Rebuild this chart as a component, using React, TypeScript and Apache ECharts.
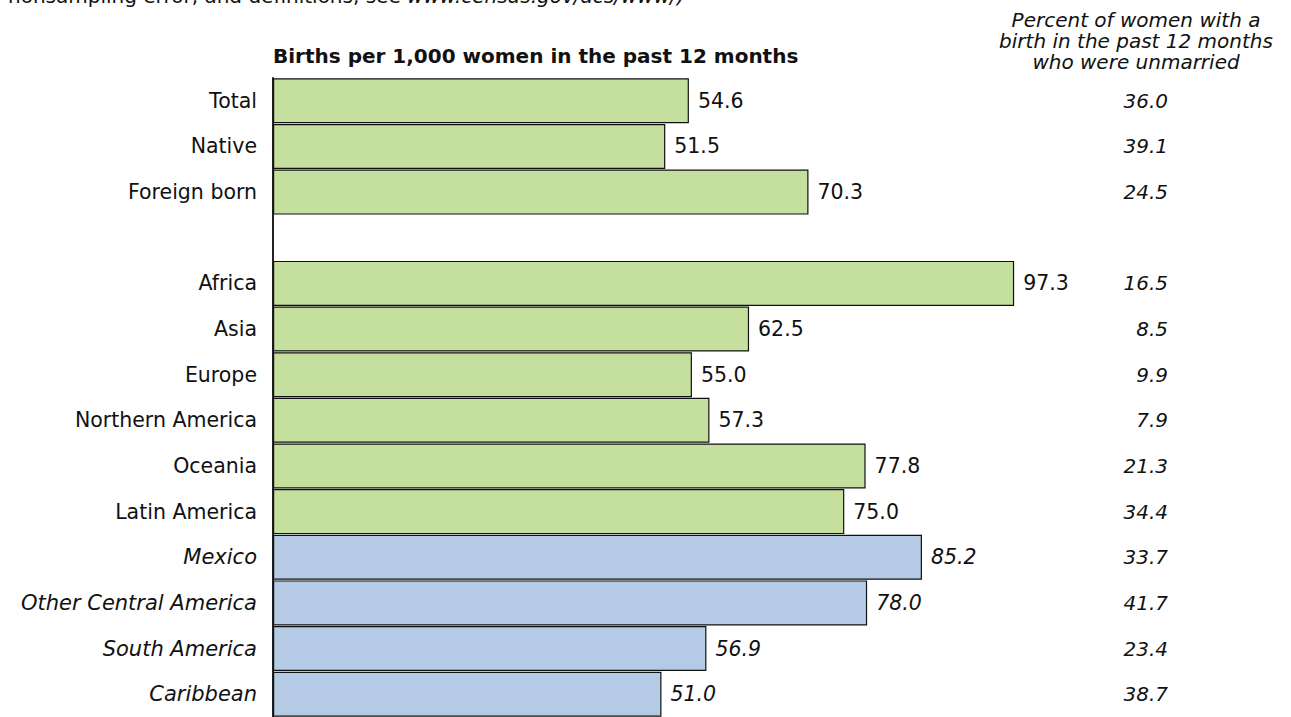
import React, { useEffect, useRef } from "react";
import * as echarts from "echarts";

const categories = [
  "Total",
  "Native",
  "Foreign born",
  "",
  "Africa",
  "Asia",
  "Europe",
  "Northern America",
  "Oceania",
  "Latin America",
  "Mexico",
  "Other Central America",
  "South America",
  "Caribbean",
];
const births: (number | null)[] = [54.6, 51.5, 70.3, null, 97.3, 62.5, 55.0, 57.3, 77.8, 75.0, 85.2, 78.0, 56.9, 51.0];
const unmarried = ["36.0", "39.1", "24.5", "", "16.5", "8.5", "9.9", "7.9", "21.3", "34.4", "33.7", "41.7", "23.4", "38.7"];
const italicRows = ["Mexico", "Other Central America", "South America", "Caribbean"];

const title = "Births per 1,000 women in the past 12 months";
const rightHeader = "Percent of women with a\nbirth in the past 12 months\nwho were unmarried";
const noteLead = "nonsampling error, and definitions, see ";
const noteLink = "www.census.gov/acs/www/)";

const FONT = "DejaVu Sans";
const GREEN = "#c5e09e";
const BLUE = "#b5cae5";

export default function App() {
  const ref = useRef<HTMLDivElement>(null);
  useEffect(() => {
    if (!ref.current) return;
    const chart = echarts.init(ref.current, undefined, { renderer: "svg" });
    const barData = births.map((v, i) => ({
      value: v,
      itemStyle: { color: italicRows.includes(categories[i]) ? BLUE : GREEN },
      label: { fontStyle: italicRows.includes(categories[i]) ? "italic" : "normal" },
    }));
    chart.setOption({
      animation: false,
      textStyle: { fontFamily: FONT },
      grid: { left: 273, top: 78, width: 895, height: 644, containLabel: false },
      xAxis: { type: "value", min: 0, max: 117.5, show: false },
      yAxis: [
        {
          type: "category",
          inverse: true,
          data: categories,
          axisLine: { show: true, lineStyle: { color: "#222", width: 2 } },
          axisTick: { show: false },
          axisLabel: {
            margin: 16,
            fontSize: 20.5,
            color: "#111",
            fontFamily: FONT,
            formatter: (v: string) => (italicRows.includes(v) ? `{i|${v}}` : v),
            rich: { i: { fontStyle: "italic", fontSize: 21, color: "#111", fontFamily: FONT } },
          },
        },
        {
          type: "category",
          inverse: true,
          position: "right",
          data: unmarried,
          axisLine: { show: false },
          axisTick: { show: false },
          axisLabel: {
            inside: true,
            margin: 0,
            fontSize: 20,
            fontStyle: "italic",
            color: "#111",
            fontFamily: FONT,
          },
        },
      ],
      series: [
        {
          type: "bar",
          yAxisIndex: 0,
          data: barData,
          barWidth: 45,
          itemStyle: { borderColor: "#111", borderWidth: 1.2 },
          label: {
            show: true,
            position: "right",
            distance: 9,
            fontSize: 20.5,
            color: "#111",
            fontFamily: FONT,
            formatter: (p: any) => (p.value == null ? "" : Number(p.value).toFixed(1)),
          },
        },
      ],
      graphic: [
        {
          type: "text",
          left: 8,
          top: -14,
          style: {
            text: `${noteLead}{i|${noteLink}}`,
            fontSize: 20,
            fontFamily: FONT,
            fill: "#111",
            rich: { i: { fontStyle: "italic", fontSize: 20, fontFamily: FONT, fill: "#111" } },
          },
        },
        {
          type: "text",
          left: 273,
          top: 46,
          style: { text: title, fontSize: 20, fontWeight: "bold", fontFamily: FONT, fill: "#111" },
        },
        {
          type: "text",
          x: 1136,
          y: 9,
          style: {
            text: rightHeader,
            fontSize: 20,
            lineHeight: 21,
            fontStyle: "italic",
            align: "center",
            fontFamily: FONT,
            fill: "#111",
          },
        },
      ],
    });
    return () => chart.dispose();
  }, []);
  return <div ref={ref} style={{ position: "fixed", left: 0, top: 0, width: 1291, height: 717, background: "#fff" }} />;
}
